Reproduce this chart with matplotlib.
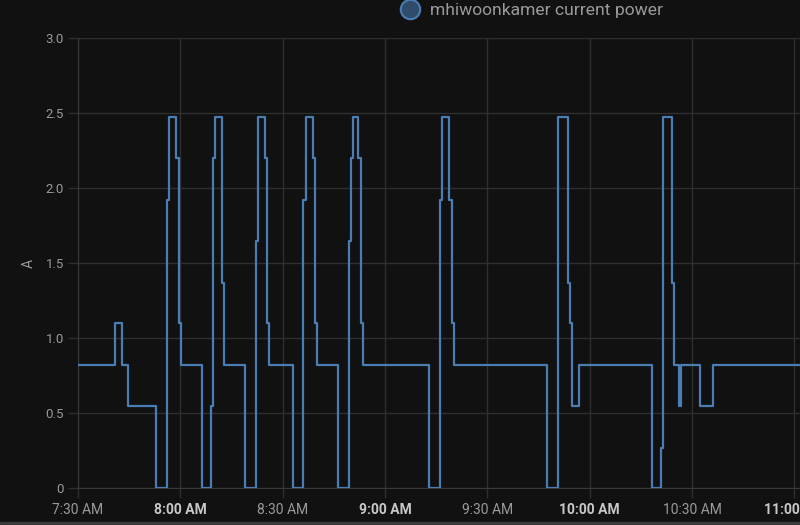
import numpy as np
import pandas as pd
import matplotlib
matplotlib.use('Agg')
import matplotlib.pyplot as plt
import matplotlib.dates as mdates
from matplotlib.lines import Line2D
from matplotlib.patches import Rectangle

plt.rcParams['font.family'] = ['Roboto', 'DejaVu Sans']

day = '2021-01-01 '
# step changes of the sensor (value holds until next change)
change_times = ['07:30:00', '07:40:51', '07:42:49', '07:44:45', '07:52:52', '07:56:11', '07:56:46',
                '07:58:49', '07:59:37', '08:00:07', '08:06:16', '08:08:54', '08:09:29', '08:10:10',
                '08:12:13', '08:12:48', '08:18:57', '08:22:06', '08:22:41', '08:24:55', '08:25:30',
                '08:26:05', '08:32:56', '08:36:03', '08:36:45', '08:38:49', '08:39:29', '08:40:09',
                '08:46:13', '08:49:32', '08:50:02', '08:50:43', '08:52:10', '08:52:53', '08:53:28',
                '09:12:49', '09:16:07', '09:16:48', '09:18:51', '09:19:33', '09:20:14', '09:47:24',
                '09:50:49', '09:53:34', '09:54:14', '09:54:49', '09:56:52', '10:18:11', '10:20:49',
                '10:21:25', '10:24:14', '10:24:49', '10:26:06', '10:26:52', '10:32:16', '10:36:10',
                '11:01:40']
current = [0.82, 1.1, 0.82, 0.55, 0, 1.92, 2.47,
           2.2, 1.1, 0.82, 0, 0.55, 2.2, 2.47,
           1.37, 0.82, 0, 1.65, 2.47, 2.2, 1.1,
           0.82, 0, 1.92, 2.47, 2.2, 1.1, 0.82,
           0, 1.65, 2.2, 2.47, 2.2, 1.1, 0.82,
           0, 1.92, 2.47, 1.92, 1.1, 0.82, 0,
           2.47, 1.37, 1.1, 0.55, 0.82, 0, 0.27,
           2.47, 1.37, 0.82, 0.55, 0.82, 0.55, 0.82,
           0.82]

xtick_times = ['07:30', '08:00', '08:30', '09:00', '09:30', '10:00', '10:30', '11:00']
xtick_labels = ['7:30 AM', '8:00 AM', '8:30 AM', '9:00 AM', '9:30 AM', '10:00 AM', '10:30 AM', '11:00 AM']
ytick_vals = [0, 0.5, 1.0, 1.5, 2.0, 2.5, 3.0]
ytick_labels = ['0', '0.5', '1.0', '1.5', '2.0', '2.5', '3.0']

series_name = 'mhiwoonkamer current power'

bg = '#111111'
gridc = '#2f2f2f'
textc = '#9a9a9a'
linec = '#4a7db3'

t = pd.to_datetime([day + s for s in change_times])
xt = pd.to_datetime([day + s for s in xtick_times])

fig = plt.figure(figsize=(8, 5.25), dpi=100, facecolor=bg)
ax = fig.add_axes([78/800, 1-488/525, 1-78/800, 450/525])
ax.set_facecolor(bg)

ax.step(t, current, where='post', color=linec, lw=1.6, zorder=3)

ax.set_ylim(0, 3.0)
ax.set_xlim(t[0], t[-1])
ax.set_yticks(ytick_vals)
ax.set_yticklabels(ytick_labels)
ax.set_xticks(xt)
ax.set_xticklabels(xtick_labels)

ax.grid(True, color=gridc, lw=1)
ax.set_axisbelow(True)
ax.tick_params(axis='both', colors=gridc, labelcolor=textc, labelsize=9.5, length=7, width=1)
ax.tick_params(axis='x', pad=4, labelsize=10)
ax.tick_params(axis='y', pad=3)
for lab in ax.get_xticklabels():
    if lab.get_text().split(' ')[0].endswith(':00'):
        lab.set_fontweight('bold')
        lab.set_color('#c8c8c8')
for side in ['top', 'right']:
    ax.spines[side].set_visible(False)
for side in ['left', 'bottom']:
    ax.spines[side].set_color('#3a3a3a')

ax.set_ylabel('A', color=textc, fontsize=10, labelpad=7)

# legend
fig.add_artist(Line2D([410/800], [1-9/525], marker='o', markersize=14, markerfacecolor='#2f4c6b',
                      markeredgecolor='#4a7db3', markeredgewidth=1.5, transform=fig.transFigure))
fig.text(430/800, 1-10/525, series_name, color=textc, fontsize=12.6, va='center', ha='left')

fig.add_artist(Rectangle((0, 0), 1, 3/525, transform=fig.transFigure, color='#3a3a3a'))

fig.savefig('out.png', dpi=100, facecolor=bg)
